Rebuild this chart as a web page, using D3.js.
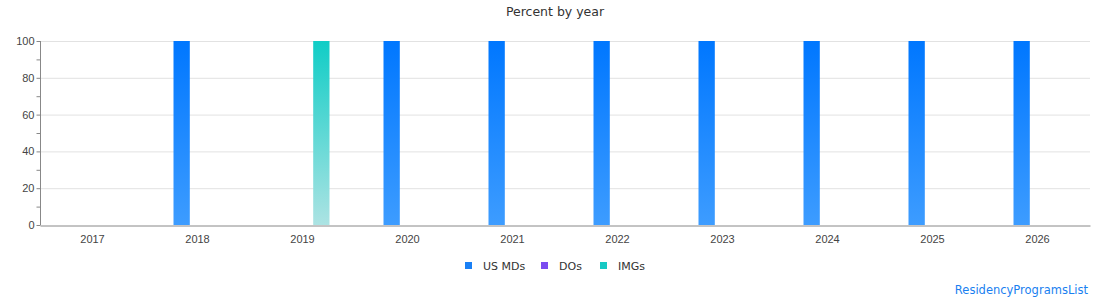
<!DOCTYPE html>
<html>
<head>
<meta charset="utf-8">
<script src="https://cdn.jsdelivr.net/npm/d3@7"></script>
<style>
  html, body { margin: 0; padding: 0; background: #fff; }
  svg { display: block; font-family: "DejaVu Sans", Verdana, sans-serif; }
</style>
</head>
<body>
<svg id="chart" width="1110" height="300"></svg>
<script>
// percent by year — three series per year
const years = ['2017', '2018', '2019', '2020', '2021', '2022', '2023', '2024', '2025', '2026'];
const seriesNames = ['US MDs', 'DOs', 'IMGs'];
const usMDs = [0, 100, 0, 100, 100, 100, 100, 100, 100, 100];
const dos   = [0, 0, 0, 0, 0, 0, 0, 0, 0, 0];
const imgs  = [0, 0, 100, 0, 0, 0, 0, 0, 0, 0];
const yTicks = [0, 20, 40, 60, 80, 100];

const seriesValues = [usMDs, dos, imgs];
// gradient stops: top, bottom
const gradients = [['#0077ff', '#3d9cff'], ['#7b48f0', '#b49bf7'], ['#10cdc6', '#ace3e3']];
const legendColors = ['#1a80f5', '#7b4cf0', '#17c9c4'];

const W = 1110, H = 300;
const m = { top: 41, right: 20, bottom: 75, left: 40 };
const svg = d3.select('#chart');

const defs = svg.append('defs');
gradients.forEach((g, i) => {
  const lg = defs.append('linearGradient').attr('id', 'grad' + i)
    .attr('x1', 0).attr('y1', 0).attr('x2', 0).attr('y2', 1);
  lg.append('stop').attr('offset', '0%').attr('stop-color', g[0]);
  lg.append('stop').attr('offset', '100%').attr('stop-color', g[1]);
});

const x0 = d3.scaleBand().domain(years).range([m.left, W - m.right]).padding(0);
const x1 = d3.scaleBand().domain(d3.range(seriesNames.length)).range([-24, 27]).paddingInner(0.06);
const y = d3.scaleLinear().domain([0, 100]).range([H - m.bottom, m.top]);

// title
svg.append('text').attr('x', W / 2).attr('y', 16).attr('text-anchor', 'middle')
  .attr('font-size', 12.5).attr('fill', '#333').text('Percent by year');

// grid
svg.append('g').selectAll('line').data(yTicks.filter(t => t > 0)).join('line')
  .attr('x1', m.left).attr('x2', W - m.right)
  .attr('y1', d => y(d) + 0.5).attr('y2', d => y(d) + 0.5)
  .attr('stroke', '#e2e2e2');

// bars
const data = [];
years.forEach((yr, i) => seriesValues.forEach((vals, s) => data.push({ yr, s, v: vals[i] })));
svg.append('g').selectAll('rect').data(data.filter(d => d.v > 0)).join('rect')
  .attr('x', d => x0(d.yr) + x0.bandwidth() / 2 + x1(d.s))
  .attr('width', x1.bandwidth())
  .attr('y', d => y(d.v))
  .attr('height', d => y(0) - y(d.v))
  .attr('fill', d => `url(#grad${d.s})`);

// y axis
const yAxis = d3.axisLeft(y).tickValues(d3.range(0, 101, 10)).tickSize(4).tickFormat(d => d % 20 === 0 ? d : '');
const gy = svg.append('g').attr('transform', `translate(${m.left + 0.5},0)`).call(yAxis);
gy.select('.domain').attr('stroke', '#888').attr('d', `M0,${y(100)}V${y(0)}`);
gy.selectAll('.tick line').attr('stroke', '#888');
gy.selectAll('.tick text').attr('font-size', 11).attr('fill', '#444').attr('font-family', null).attr('x', -6);

// x axis
const xAxis = d3.axisBottom(x0).tickSize(0).tickPadding(10);
const gx = svg.append('g').attr('transform', `translate(0,${y(0) + 0.5})`).call(xAxis);
gx.select('.domain').attr('stroke', '#888');
gx.selectAll('.tick text').attr('font-size', 11).attr('fill', '#444').attr('font-family', null);

// legend
const legX = [465, 541, 600];
const leg = svg.append('g').attr('font-size', 11).attr('fill', '#333');
seriesNames.forEach((n, i) => {
  leg.append('rect').attr('x', legX[i]).attr('y', 262).attr('width', 7).attr('height', 7)
    .attr('fill', legendColors[i]);
  leg.append('text').attr('x', legX[i] + 18).attr('y', 269.5).text(n);
});

// watermark
svg.append('text').attr('x', W - 22).attr('y', 294).attr('text-anchor', 'end')
  .attr('font-size', 11.5).attr('fill', '#1a7ff0').text('ResidencyProgramsList');
</script>
</body>
</html>
